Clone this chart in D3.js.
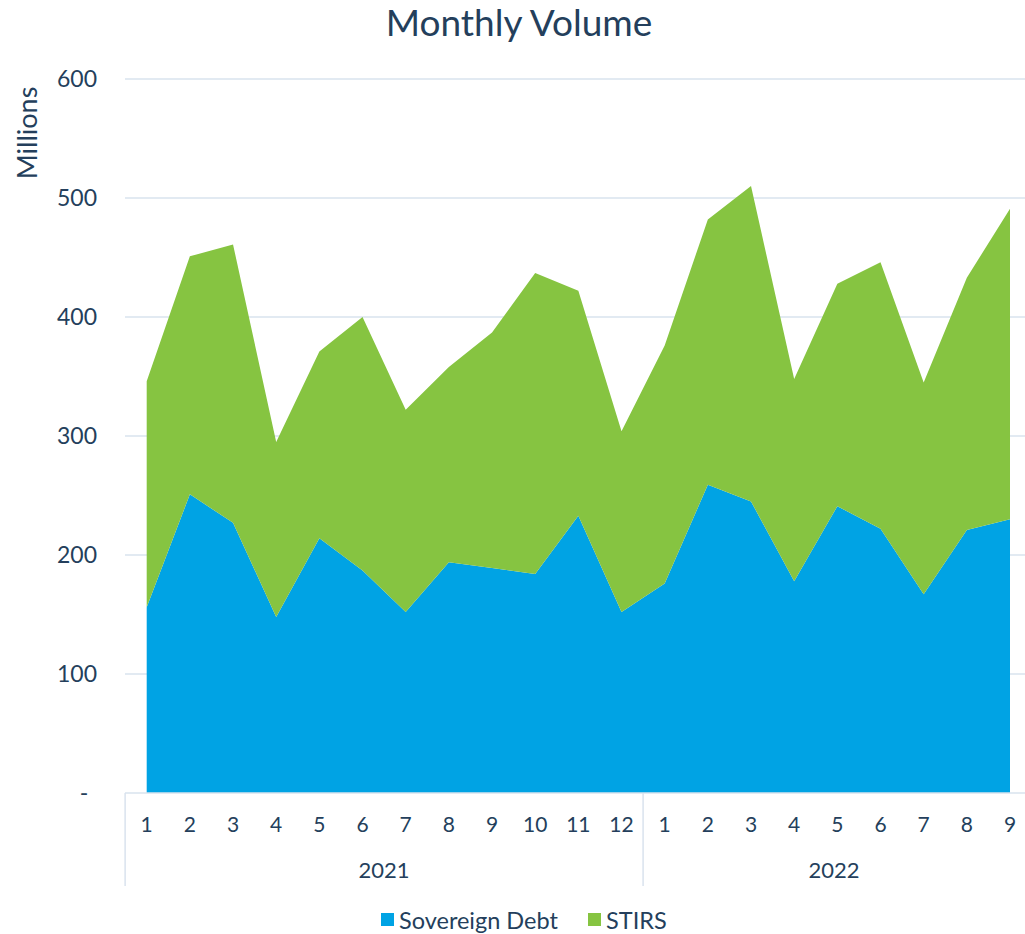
<!DOCTYPE html>
<html>
<head>
<meta charset="utf-8">
<script src="https://cdnjs.cloudflare.com/ajax/libs/d3/7.8.5/d3.min.js"></script>
<style>
  body { margin: 0; background: #fff; }
  text { font-family: Lato, "Open Sans", sans-serif; fill: #243f5c; }
</style>
</head>
<body>
<div id="main"></div>
<script>
// values in millions
var years = ["2021", "2022"]
var months = [1,2,3,4,5,6,7,8,9,10,11,12, 1,2,3,4,5,6,7,8,9]
var monthYear = ["2021","2021","2021","2021","2021","2021","2021","2021","2021","2021","2021","2021",
                 "2022","2022","2022","2022","2022","2022","2022","2022","2022"]
var sovereignDebt = [156, 251, 227, 148, 214, 187, 152, 194, 189, 184, 233, 152,
                     176, 259, 245, 178, 241, 222, 167, 221, 230]
var stirs = [190, 200, 234, 147, 157, 213, 170, 164, 198, 253, 189, 152,
             200, 223, 265, 170, 187, 224, 178, 212, 261]
var yTicks = [0, 100, 200, 300, 400, 500, 600]
var seriesNames = ["Sovereign Debt", "STIRS"]
var colors = ["#00a3e4", "#86c441"]

var dimensions = {
  width: 1025,
  height: 934,
  margin: { top: 79, bottom: 141, left: 125, right: 0 }
}

var svg = d3.select("#main")
            .append("svg")
            .attr("width", dimensions.width)
            .attr("height", dimensions.height)

var rows = months.map(function(m, i) {
  return { i: i, sd: sovereignDebt[i], st: stirs[i] }
})

var x = d3.scalePoint()
          .domain(d3.range(months.length))
          .range([146.7, 1010])
var step = x.step()

var y = d3.scaleLinear()
          .domain([0, 600])
          .range([dimensions.height - dimensions.margin.bottom, dimensions.margin.top])

// grid
svg.append("g")
   .selectAll("line")
   .data(yTicks.slice(1))
   .enter()
   .append("line")
   .attr("x1", dimensions.margin.left)
   .attr("x2", dimensions.width)
   .attr("y1", function(d) { return y(d) })
   .attr("y2", function(d) { return y(d) })
   .attr("stroke", "#d9e3ee")
   .attr("stroke-width", 1.5)

// y labels
svg.append("g")
   .selectAll("text")
   .data(yTicks)
   .enter()
   .append("text")
   .attr("x", function(d) { return d === 0 ? 84 : 97 })
   .attr("y", function(d) { return y(d) })
   .attr("dy", "0.35em")
   .attr("text-anchor", function(d) { return d === 0 ? "middle" : "end" })
   .style("font-size", "23px")
   .text(function(d) { return d === 0 ? "-" : d })

svg.append("text")
   .attr("transform", "translate(37,133) rotate(-90)")
   .attr("text-anchor", "middle")
   .style("font-size", "27px")
   .text("Millions")

// stacked areas
var stack = d3.stack().keys(["sd", "st"])
var layers = stack(rows)

var area = d3.area()
             .x(function(d) { return x(d.data.i) })
             .y0(function(d) { return y(d[0]) })
             .y1(function(d) { return y(d[1]) })

svg.append("g")
   .selectAll("path")
   .data(layers)
   .enter()
   .append("path")
   .attr("d", area)
   .attr("fill", function(d, i) { return colors[i] })

// x axis (two levels)
var y0 = y(0)
svg.append("line")
   .attr("x1", dimensions.margin.left)
   .attr("x2", dimensions.width)
   .attr("y1", y0).attr("y2", y0)
   .attr("stroke", "#d9e3ee")
   .attr("stroke-width", 1.5)

svg.append("g")
   .selectAll("text")
   .data(months)
   .enter()
   .append("text")
   .attr("x", function(d, i) { return x(i) })
   .attr("y", 832)
   .attr("text-anchor", "middle")
   .style("font-size", "21px")
   .text(function(d) { return d })

var bounds = [x(0) - step / 2]
years.forEach(function(yr) {
  var idx = monthYear.map(function(v, i) { return v === yr ? i : -1 }).filter(function(i) { return i >= 0 })
  bounds.push(x(idx[idx.length - 1]) + step / 2)
})

svg.append("g")
   .selectAll("line")
   .data(bounds.filter(function(b) { return b < dimensions.width }))
   .enter()
   .append("line")
   .attr("x1", function(d) { return d })
   .attr("x2", function(d) { return d })
   .attr("y1", y0)
   .attr("y2", 886)
   .attr("stroke", "#d9e3ee")
   .attr("stroke-width", 1.5)

svg.append("g")
   .selectAll("text")
   .data(years)
   .enter()
   .append("text")
   .attr("x", function(d, i) { return (bounds[i] + Math.min(bounds[i + 1], dimensions.width)) / 2 })
   .attr("y", 878)
   .attr("text-anchor", "middle")
   .style("font-size", "22px")
   .text(function(d) { return d })

// title
svg.append("text")
   .attr("x", 519)
   .attr("y", 36)
   .attr("text-anchor", "middle")
   .style("font-size", "37px")
   .text("Monthly Volume")

// legend
var legend = svg.append("g")
var lx = [381, 588]
seriesNames.forEach(function(name, i) {
  legend.append("rect")
        .attr("x", lx[i])
        .attr("y", 913)
        .attr("width", 13)
        .attr("height", 13)
        .attr("fill", colors[i])
  legend.append("text")
        .attr("x", lx[i] + 18)
        .attr("y", 929)
        .style("font-size", "23.5px")
        .text(name)
})
</script>
</body>
</html>
